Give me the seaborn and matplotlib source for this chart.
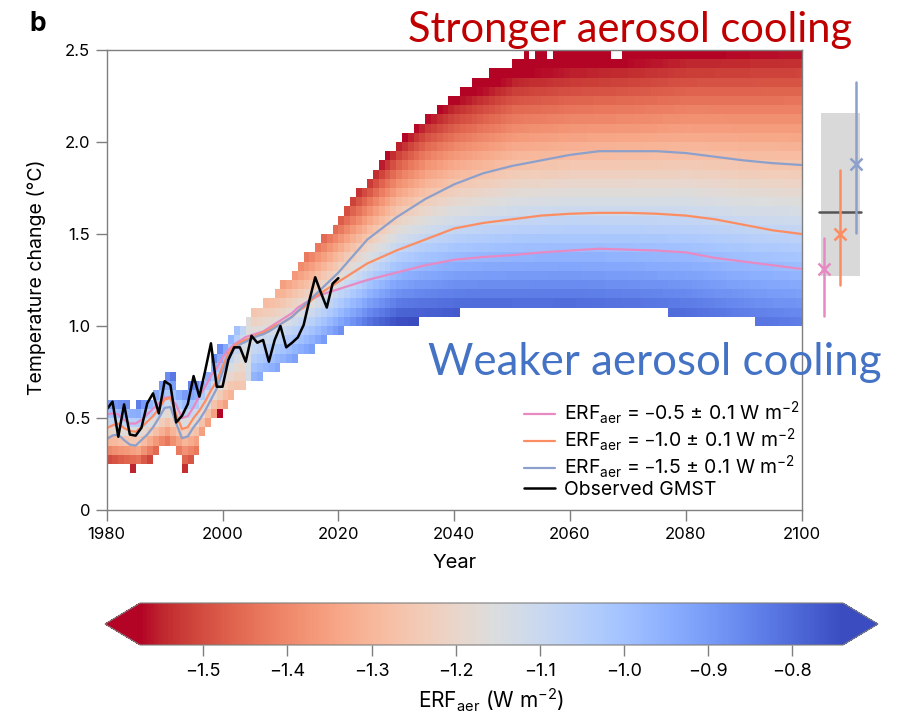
import numpy as np
import matplotlib
matplotlib.use("Agg")
import matplotlib.pyplot as plt
import seaborn as sns
from matplotlib.patches import Rectangle

sns.set_theme(style="white")
plt.rcParams["font.family"] = ["Inter", "DejaVu Sans"]
plt.rcParams["mathtext.default"] = "regular"

# ---------------- data ----------------
# heat-map columns: one per year 1980..2099, envelope bottom/top edges (degC)
col_years = list(range(1980, 2100))
env_low = ([0.25, 0.25, 0.25, 0.25, 0.20, 0.25, 0.25, 0.25, 0.30, 0.35,      # 1980-89
            0.35, 0.35, 0.30, 0.20, 0.25, 0.30, 0.40, 0.45, 0.50, 0.50,      # 1990-99
            0.55, 0.60, 0.65, 0.65, 0.70, 0.70, 0.70, 0.75, 0.75, 0.75,      # 2000-09
            0.80, 0.80, 0.80, 0.85, 0.85, 0.85, 0.90, 0.90, 0.95, 0.95,      # 2010-19
            0.95, 1.00, 1.00, 1.00, 1.00, 1.00, 1.00, 1.00, 1.00, 1.00,      # 2020-29
            1.00, 1.00, 1.00, 1.00, 1.05, 1.05, 1.05, 1.05, 1.05, 1.05,      # 2030-39
            1.05, 1.10, 1.10, 1.10, 1.10, 1.10, 1.10, 1.10, 1.10, 1.10]      # 2040-49
           + [1.10] * 27 + [1.05] * 15 + [1.00] * 8)                         # 2050-99
env_high = ([0.60, 0.60, 0.60, 0.60, 0.55, 0.60, 0.60, 0.60, 0.65, 0.70,
             0.75, 0.75, 0.65, 0.65, 0.70, 0.70, 0.70, 0.75, 0.85, 0.90,
             0.90, 0.95, 1.00, 1.00, 1.05, 1.10, 1.10, 1.15, 1.15, 1.20,
             1.25, 1.25, 1.30, 1.35, 1.40, 1.40, 1.45, 1.50, 1.50, 1.55,
             1.60, 1.65, 1.70, 1.75, 1.75, 1.80, 1.85, 1.90, 1.95, 1.95,
             2.00, 2.05, 2.05, 2.10, 2.10, 2.15, 2.15, 2.20, 2.20, 2.25,
             2.25, 2.30, 2.30, 2.35, 2.35, 2.35, 2.40, 2.40, 2.40, 2.40,
             2.45, 2.45] + [2.50] * 48)
top_row_gaps = [2053, 2056, 2067, 2068]
special_cells = [(1999, 0.50, -1.62)]

# colour structure of the ensemble (ERF of the gray band and gradient per degC)
color_years = [1980, 1985, 1990, 1993, 1995, 1998, 2000, 2003, 2005, 2010, 2015,
               2020, 2025, 2030, 2035, 2040, 2050, 2060, 2070, 2080, 2090, 2100]
gray_temp = [0.45, 0.42, 0.55, 0.47, 0.50, 0.65, 0.72, 0.85, 0.95, 1.02, 1.12,
             1.25, 1.38, 1.50, 1.57, 1.62, 1.68, 1.70, 1.70, 1.70, 1.67, 1.65]
erf_gradient = [2.0, 2.0, 1.6, 1.6, 1.6, 1.6, 1.4, 0.6, -0.85, -1.0, -1.0,
                -1.0, -0.95, -0.85, -0.75, -0.70, -0.62, -0.60, -0.58, -0.55, -0.52, -0.50]

# ensemble-mean lines
line_years = list(range(1980, 2021)) + [2025, 2030, 2035, 2040, 2045, 2050, 2055,
                                         2060, 2065, 2070, 2075, 2080, 2085, 2090, 2095, 2100]
erf_m05 = [0.52, 0.525, 0.52, 0.49, 0.47, 0.47, 0.49, 0.52, 0.55, 0.58,
           0.61, 0.615, 0.57, 0.50, 0.51, 0.56, 0.62, 0.67, 0.73, 0.77,
           0.83, 0.87, 0.90, 0.92, 0.94, 0.95, 0.96, 0.97, 0.99, 1.01,
           1.03, 1.05, 1.07, 1.10, 1.12, 1.14, 1.155, 1.17, 1.18, 1.19, 1.20,
           1.25, 1.29, 1.33, 1.36, 1.375, 1.385, 1.40, 1.41, 1.42, 1.415,
           1.41, 1.40, 1.37, 1.35, 1.33, 1.31]
erf_m10 = [0.445, 0.46, 0.47, 0.445, 0.43, 0.425, 0.45, 0.48, 0.51, 0.55,
           0.60, 0.61, 0.52, 0.44, 0.45, 0.50, 0.54, 0.59, 0.65, 0.70,
           0.78, 0.85, 0.89, 0.91, 0.925, 0.935, 0.95, 0.965, 0.98, 1.00,
           1.01, 1.03, 1.05, 1.08, 1.10, 1.13, 1.16, 1.18, 1.20, 1.22, 1.24,
           1.34, 1.41, 1.47, 1.53, 1.56, 1.58, 1.60, 1.61, 1.615, 1.615,
           1.61, 1.60, 1.58, 1.55, 1.52, 1.50]
erf_m15 = [0.385, 0.405, 0.41, 0.38, 0.355, 0.35, 0.38, 0.41, 0.45, 0.50,
           0.555, 0.56, 0.47, 0.39, 0.40, 0.45, 0.49, 0.54, 0.60, 0.66,
           0.75, 0.83, 0.875, 0.90, 0.915, 0.93, 0.945, 0.955, 0.97, 0.99,
           1.01, 1.03, 1.05, 1.08, 1.11, 1.14, 1.17, 1.20, 1.23, 1.26, 1.29,
           1.47, 1.59, 1.69, 1.77, 1.83, 1.87, 1.90, 1.93, 1.95, 1.95,
           1.95, 1.94, 1.92, 1.90, 1.885, 1.875]
obs_years = list(range(1980, 2021))
obs_gmst = [0.546, 0.589, 0.398, 0.574, 0.41, 0.404, 0.447, 0.58, 0.634, 0.525,
            0.70, 0.679, 0.476, 0.512, 0.576, 0.728, 0.616, 0.757, 0.906, 0.67,
            0.67, 0.815, 0.884, 0.884, 0.806, 0.947, 0.909, 0.924, 0.806, 0.924,
            1.00, 0.884, 0.909, 0.938, 1.005, 1.14, 1.265, 1.18, 1.10, 1.23, 1.26]

# 2100 ranges shown at the right of the panel
range_x = [2103.9, 2106.6, 2109.3]
range_low = [1.054, 1.223, 1.504]
range_high = [1.477, 1.848, 2.328]
range_mid = [1.308, 1.50, 1.88]
assessed_low, assessed_high, assessed_best = 1.272, 2.156, 1.62

labels = ["ERF$_{aer}$ = \u20130.5 \u00b1 0.1 W m$^{-2}$",
          "ERF$_{aer}$ = \u20131.0 \u00b1 0.1 W m$^{-2}$",
          "ERF$_{aer}$ = \u20131.5 \u00b1 0.1 W m$^{-2}$",
          "Observed GMST"]
line_colors = ["#e78ac3", "#fc8d62", "#8da0cb"]
cbar_ticks = [-1.5, -1.4, -1.3, -1.2, -1.1, -1.0, -0.9, -0.8]

# ---------------- build heat map grid ----------------
nrow, ncol = 50, len(col_years)
centers = np.arange(nrow) * 0.05 + 0.025
gt = np.interp(col_years, color_years, gray_temp)
gr = np.interp(col_years, color_years, erf_gradient)
grid = np.full((nrow, ncol), np.nan)
for j, yr in enumerate(col_years):
    for k in range(nrow):
        if 0.05 * k >= env_low[j] - 1e-6 and 0.05 * (k + 1) <= env_high[j] + 1e-6:
            grid[k, j] = -1.15 + gr[j] * (centers[k] - gt[j])
for yr in top_row_gaps:
    grid[nrow - 1, col_years.index(yr)] = np.nan
for yr, t, v in special_cells:
    grid[int(round(t / 0.05)), col_years.index(yr)] = v

# ---------------- figure ----------------
W, H = 909, 718
fig = plt.figure(figsize=(W / 100, H / 100), dpi=100)
pos = [106.7 / W, 1 - 510 / H, 695 / W, 460 / H]
hax = fig.add_axes(pos, zorder=1)
ax = fig.add_axes(pos, zorder=2)
ax.patch.set_alpha(0)

sns.heatmap(grid, ax=hax, cmap="coolwarm_r", vmin=-1.575, vmax=-0.74, cbar=False,
            xticklabels=False, yticklabels=False)
hax.set_xlim(0, ncol)
hax.set_ylim(0, nrow)
hax.axis("off")

for vals, c, lab in zip([erf_m05, erf_m10, erf_m15], line_colors, labels[:3]):
    sns.lineplot(x=line_years, y=vals, ax=ax, color=c, lw=1.6, label=lab)
sns.lineplot(x=obs_years, y=obs_gmst, ax=ax, color="black", lw=1.8, label=labels[3])

ax.set_xlim(1980, 2100)
ax.set_ylim(0, 2.5)
ax.set_xticks([1980, 2000, 2020, 2040, 2060, 2080, 2100])
ax.set_yticks([0, 0.5, 1.0, 1.5, 2.0, 2.5])
ax.set_yticklabels(["0", "0.5", "1.0", "1.5", "2.0", "2.5"])
for s in ax.spines.values():
    s.set_visible(True)
    s.set_color("#7f7f7f")
    s.set_linewidth(1.0)
ax.tick_params(bottom=True, left=True, direction="out", length=8, width=1,
               color="#7f7f7f", labelsize=12, labelcolor="black", pad=4)
ax.set_xlabel("Year", fontsize=14.5, color="black")
ax.set_ylabel("Temperature change (\u00b0C)", fontsize=14, color="black")
ax.xaxis.set_label_coords(0.5, -0.095)
ax.yaxis.set_label_coords(-0.087, 0.505)

leg = ax.legend(loc="lower right", bbox_to_anchor=(1.003, 0.015), frameon=False,
                fontsize=14, handlelength=1.6, handletextpad=0.5, labelspacing=0.0,
                borderaxespad=0.0, borderpad=0.2)
for t in leg.get_texts():
    t.set_color("black")

# right-hand 2100 ranges
ax.add_patch(Rectangle((2103.3, assessed_low), 6.7, assessed_high - assessed_low,
                       facecolor="#d9d9d9", edgecolor="none", clip_on=False, zorder=1))
ax.plot([2103.0, 2110.3], [assessed_best] * 2, color="#555555", lw=1.8,
        clip_on=False, zorder=2)
for x, lo, hi, m, c in zip(range_x, range_low, range_high, range_mid, line_colors):
    ax.plot([x, x], [lo, hi], color=c, lw=1.8, clip_on=False, zorder=3)
    ax.plot([x], [m], marker="x", ms=8, mew=1.8, color=c, clip_on=False, zorder=3)

# colour bar (axes includes the triangular extensions)
cax = fig.add_axes([105 / W, 1 - 645 / H, 773 / W, 42 / H])
cb = fig.colorbar(hax.collections[0], cax=cax, orientation="horizontal",
                  extend="both", extendfrac=0.05)
cb.set_ticks(cbar_ticks)
cb.set_ticklabels([f"\u2212{abs(v):.1f}" for v in cbar_ticks])
cb.outline.set_edgecolor("#7f7f7f")
cb.outline.set_linewidth(0.8)
cax.tick_params(direction="out", length=8, width=1, color="#7f7f7f",
                labelsize=13, labelcolor="black", pad=5, bottom=True)
cb.set_label("ERF$_{aer}$ (W m$^{-2}$)", fontsize=15, color="black", labelpad=5)

# annotations
fig.text(29 / W, 1 - 31 / H, "b", fontsize=19, fontweight="bold", color="black",
         va="baseline", ha="left")
fig.text(408 / W, 1 - 42 / H, "Stronger aerosol cooling", color="#C00000",
         fontsize=30, family="Lato", va="baseline", ha="left")
fig.text(428 / W, 1 - 375 / H, "Weaker aerosol cooling", color="#4472C4",
         fontsize=31.6, family="Lato", va="baseline", ha="left", zorder=5)

fig.savefig("out.png", dpi=100)
